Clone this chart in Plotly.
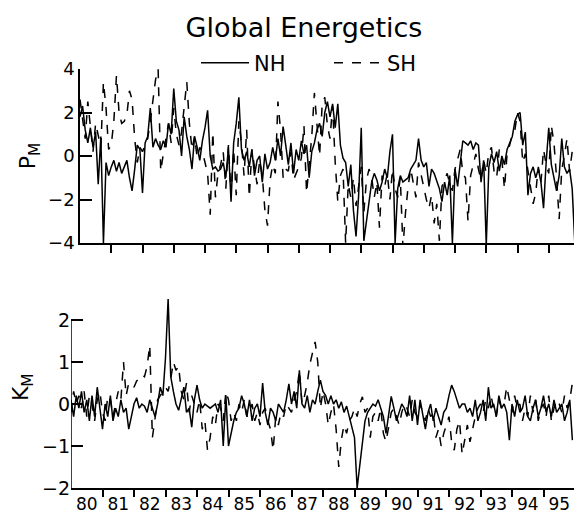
import plotly.graph_objects as go

# monthly values Jan 1980 - Dec 1995
pm_nh = [
    1.8, 2.3, 1.2, 0.6, 1.3, 0.4, 1.1, -1.3, 0.9, -4.0, -0.3, -0.9,
    -0.5, -0.2, -0.7, -0.3, -0.8, -0.5, -0.2, -1.0, -1.6, -0.6, 0.5, 0.3,
    -1.7, 0.6, 0.9, 2.2, 0.4, 0.8, 0.5, 0.3, 0.7, 0.4, 1.5, 1.0,
    3.1, 1.6, 1.2, 0.0, 1.8, 0.9, 0.3, -0.6, 0.9, 0.4, -0.2, 0.7,
    1.3, 2.1, 0.0, -0.6, -0.5, -0.7, -0.6, -0.3, -1.0, 0.4, -2.1, 0.6,
    1.5, 2.7, 0.3, -0.2, 0.2, -0.5, 0.3, -0.9, -0.2, 0.0, -1.2, 0.1,
    -0.6, -0.3, 0.4, -0.2, 0.8, 0.0, 1.35, 0.5, -0.4, 0.6, -0.8, 0.3,
    -0.2, 0.7, 0.1, 0.5, -1.0, 0.2, 0.6, 1.2, 1.5, 0.9, 2.0, 2.5,
    1.8, 2.4, 1.3, 2.4, 0.5, -0.1, -0.3, -1.4, -0.4, -2.5, -3.7, -1.8,
    1.3, -3.9, -3.0, -2.2, -1.2, -0.8, -1.1, -1.6, -1.2, -0.6, -1.0, 0.2,
    1.0, -4.0, -1.5, -0.9, -1.2, -1.1, -1.0, -0.6, -0.4, -0.2, 0.8, -0.2,
    -0.5, -0.3, -1.4, -0.6, -0.8, -1.2, -1.5, -2.1, -1.2, -1.8, -0.9, -4.0,
    -0.6, -1.4, -0.2, 0.7, 0.6, 0.5, 0.7, 0.3, 0.6, 0.5, -1.2, -0.2,
    -4.1, -0.5, 0.1, -0.3, 0.2, -0.7, 0.0, -0.4, 0.3, 0.6, 0.9, 1.6,
    1.9, 2.0, 0.5, 1.1, -1.8, -0.8, -0.5, -1.0, -0.6, -1.2, -2.4, -0.3,
    1.3, -0.4, -1.0, -1.6, -0.9, 0.8, -0.5, -0.8, -0.6, -1.5, -4.0, 1.1,
]
pm_sh = [
    2.6, 1.8, 0.8, 2.5, 1.2, 0.2, 1.5, 0.9, 0.4, 3.4, 2.2, 0.3,
    0.5, 1.6, 3.7, 2.0, 1.5, 1.6, 1.9, 3.0, 2.6, 0.8, -0.3, 0.4,
    0.2, 0.5, 0.8, 1.6, 2.5, 3.5, 4.0, -0.7, 0.1, 0.9, 1.5, 0.6,
    2.2, 1.0, 0.5, 1.1, 2.4, 3.4, 1.5, 0.3, 0.9, -0.1, 0.4, 0.2,
    -0.3, -0.8, -2.7, 1.1, -1.9, -0.8, -0.4, 0.2, -1.5, 0.5, -1.8, 0.3,
    -1.8, 1.6, 0.6, -0.9, 1.2, -1.9, 0.3, -0.5, -1.3, -0.2, -0.9, -2.5,
    -3.2, -1.1, -0.4, -0.8, 2.5, 1.2, -1.0, -0.6, -0.7, 0.2, -1.1, -0.8,
    -0.5, -0.1, 1.4, -1.7, -0.2, 0.9, 2.9, 1.6, 0.0, 2.4, 2.7, 1.4,
    0.8, 2.3, -0.3, -2.1, -0.9, -0.6, -4.0, -1.3, -1.9, -1.0, -2.3, -1.4,
    -0.5, -2.6, -1.1, -0.6, -1.0, -1.9, -1.2, -3.3, -0.9, -1.4, -0.8, -2.0,
    -0.6, -1.5, -1.9, -1.0, -4.2, -2.6, -1.4, -0.6, -1.3, -1.9, -0.3, -0.9,
    -1.5, -2.0, -2.4, -1.8, -3.1, -2.2, -3.9, -1.4, -1.1, -0.8, -1.3, -1.6,
    -0.6, -0.2, 0.3, -0.8, -1.0, -3.0, -0.9, -0.4, 0.1, -0.6, -1.1, -0.2,
    -0.8, 0.2, 0.4, -0.7, -1.0, 0.3, -0.2, -1.5, 0.1, 0.5, 1.0, 1.2,
    2.0, 1.6, -0.3, 0.1, -0.6, -1.5, -2.2, -1.7, -0.5, -1.2, 0.3, -0.4,
    -0.8, 1.4, 0.6, -1.0, -2.9, -0.6, 0.0, 0.8, -0.7, 0.2, 0.7, 1.1,
]
km_nh = [
    0.1, -0.3, 0.2, -0.1, 0.3, -0.2, 0.1, -0.4, 0.2, -0.3, 0.4, -0.1,
    -0.6, 0.0, -0.3, 0.2, -0.4, -0.1, -0.3, 0.1, -0.2, -0.1, -0.6, -0.3,
    0.0, 0.15, -0.1, 0.0, -0.05, -0.2, 0.1, -0.1, -0.3, 0.0, 0.4, 0.2,
    1.1, 2.5, 0.65, 0.3, 0.0, -0.15, 0.1, 0.4, -0.2, -0.1, -0.55, 0.1,
    0.45, 0.1, -0.1, 0.0, -0.05, -0.1, -0.05, 0.0, -0.2, 0.1, -1.0, 0.2,
    -1.0, -0.7, -0.4, -0.2, -0.1, 0.2, 0.0, -0.3, 0.1, -0.4, -0.1, 0.0,
    -0.3, 0.5, -0.2, -0.5, -0.1, -0.2, -0.4, 0.0, -0.1, -0.2, 0.1, 0.48,
    0.0, 0.3, -0.1, 0.8, 0.0, -0.1, 0.2, -0.2, 0.1, 0.0, 0.3, 0.57,
    0.3, 0.2, 0.0, 0.2, 0.0, 0.1, -0.1, 0.05, -0.2, -0.05, -0.3, -0.54,
    -0.8, -2.0, -1.5, -0.9, -0.4, -0.2, -0.1, 0.0, -0.05, 0.1, -0.1, -0.3,
    -0.7, -0.3, 0.18, -0.1, -0.4, -0.2, 0.0, -0.1, -0.3, 0.2, -0.4, 0.1,
    -0.5, 0.1, -0.3, -0.6, -0.2, 0.0, -0.4, -0.1, -0.3, -0.5, -0.2, -0.1,
    0.2, 0.45, 0.3, 0.1, -0.1, 0.0, 0.0, -0.2, -0.1, -0.3, 0.1, -0.4,
    -0.2, 0.1, -0.4, 0.4, -0.1, 0.0, -0.3, 0.2, -0.1, 0.0, -0.2, -0.86,
    0.0, -0.3, 0.1, -0.2, -0.1, 0.2, -0.3, -0.4, -0.1, 0.1, -0.3, -0.1,
    0.2, -0.2, 0.0, -0.3, 0.1, -0.2, -0.1, 0.0, -0.4, -0.2, 0.1, -0.86,
]
km_sh = [
    -0.2, 0.3, 0.0, 0.2, -0.1, 0.3, -0.3, 0.2, 0.0, -0.4, 0.1, 0.3,
    -0.2, -0.4, 0.2, 0.1, -0.3, 0.0, 0.3, 0.1, 1.0, 0.2, 0.5, 0.5,
    0.4, 0.55, 0.6, 0.7, 0.65, 0.9, 1.4, -0.8, -0.3, 0.1, 0.2, 0.3,
    0.4, 0.3, 0.6, 1.0, 0.8, 0.9, 0.3, 0.1, 0.5, -0.2, 0.2, 0.0,
    -0.2, 0.1, -0.6, -0.4, -1.1, -0.8, -0.3, -0.5, 0.0, -0.1, -0.4, 0.3,
    0.1, -0.4, -0.2, -0.4, 0.0, -0.2, 0.1, -0.3, -0.2, 0.0, -0.4, -0.2,
    -0.5, -0.2, -0.1, -0.4, -0.6, -1.1, -0.3, -0.5, -0.2, -0.3, 0.0, -0.1,
    -0.2, 0.1, 0.3, 0.8, 0.0, 0.2, 0.5, 0.95, 1.2, 1.48, 1.0, -0.1,
    0.3, 0.0, -0.5, -0.2, 0.0, -0.6, -1.5, -0.85, -0.5, -0.7, -0.4, -0.3,
    -0.1, -0.3, 0.0, 0.17, -0.2, -0.1, -0.8, -0.3, -0.2, -0.4, -0.1, -0.7,
    -0.9, -0.5, -0.2, -0.1, -0.3, -0.5, -0.2, 0.0, -0.1, -0.3, 0.1, -0.2,
    -0.3, 0.0, -0.2, -0.4, -0.1, -0.3, -0.2, -0.8, -0.6, -1.0, -0.7, -0.5,
    -0.3, -0.9, -1.1, -0.6, -0.4, -1.2, -0.8, -0.5, -0.9, -0.6, -0.3, -0.1,
    0.0, -0.2, 0.1, -0.1, 0.2, -0.1, -0.3, 0.1, -0.1, 0.0, 0.41, 0.1,
    -0.2, 0.2, -0.1, 0.0, -0.4, -0.1, -0.3, 0.2, -0.2, 0.1, -0.4, -0.1,
    0.0, -0.3, 0.2, -0.4, -0.1, 0.1, 0.0, -0.2, 0.2, -0.1, 0.1, 0.5,
]
year_labels = ["80", "81", "82", "83", "84", "85", "86", "87",
               "88", "89", "90", "91", "92", "93", "94", "95"]
first_year = 1980

t = [first_year + i / 12 for i in range(len(pm_nh))]
year_bounds = [first_year + k for k in range(len(year_labels) + 1)]
year_mids = [first_year + k + 0.5 for k in range(len(year_labels))]

FONT = "DejaVu Sans"
OFF = 8                      # page body margin of the browser
W, H = 582 - OFF, 527 - OFF
line_w = 1.5


def px(x):
    return (x - OFF) / W


def py(y):
    return 1 - (y - OFF) / H


# pixel layout (window coordinates)
top_y4, top_ym4 = 69, 243      # P_M: y=4, y=-4
bot_y2, bot_ym2 = 320, 488     # K_M: y=2, y=-2
km_top = 2.8                   # extra room so the 1983 spike is not clipped
bot_top_px = bot_ym2 - (km_top + 2) / 4 * (bot_ym2 - bot_y2)

fig = go.Figure()
fig.add_trace(go.Scatter(x=t, y=pm_nh, mode="lines", name="NH",
                         line=dict(color="black", width=line_w),
                         xaxis="x", yaxis="y"))
fig.add_trace(go.Scatter(x=t, y=pm_sh, mode="lines", name="SH",
                         line=dict(color="black", width=line_w, dash="dash"),
                         xaxis="x", yaxis="y"))
fig.add_trace(go.Scatter(x=t, y=km_nh, mode="lines", showlegend=False,
                         line=dict(color="black", width=line_w),
                         xaxis="x2", yaxis="y2"))
fig.add_trace(go.Scatter(x=t, y=km_sh, mode="lines", showlegend=False,
                         line=dict(color="black", width=line_w, dash="dash"),
                         xaxis="x2", yaxis="y2"))

# K_M left axis line only from -2 to 2
fig.add_shape(type="line", xref="x2", yref="y2", x0=first_year, x1=first_year,
              y0=-2, y1=2, line=dict(color="black", width=1.5))

fig.update_layout(
    width=W, height=H,
    margin=dict(l=0, r=0, t=0, b=0, autoexpand=False),
    paper_bgcolor="white", plot_bgcolor="white",
    font=dict(family=FONT, color="black", size=16),
    title=dict(text="Global Energetics", x=px(304), xanchor="center",
               y=py(28), yanchor="middle",
               font=dict(size=27, family=FONT)),
    legend=dict(orientation="h", x=px(196), y=py(63), xanchor="left",
                yanchor="middle", font=dict(size=21), itemwidth=48,
                bgcolor="rgba(0,0,0,0)", entrywidth=70),
    xaxis=dict(domain=[px(80), px(580)], range=[1980, 1996], automargin=False,
               anchor="y", showline=True, linecolor="black", linewidth=1.5,
               showgrid=False, zeroline=False, showticklabels=False,
               tickmode="array", tickvals=year_bounds[1:-1], ticks="outside",
               ticklen=8, tickwidth=1.5, tickcolor="black"),
    yaxis=dict(domain=[py(top_ym4), py(top_y4)], range=[-4, 4],
               anchor="x", automargin=False, showline=True, linecolor="black",
               linewidth=1.5, showgrid=False, zeroline=False,
               tickvals=[-4, -2, 0, 2, 4], ticktext=["\u22124", "\u22122", "0", "2", "4"],
               ticks="inside", ticklen=12, tickwidth=1.5, tickcolor="black",
               tickfont=dict(size=18),
               title=dict(text="P<sub>M</sub>", font=dict(size=22), standoff=6)),
    xaxis2=dict(domain=[px(71), px(575)], range=[1980, 1996], automargin=False,
                anchor="y2", showline=True, linecolor="black", linewidth=1.5,
                showgrid=False, zeroline=False,
                tickmode="array", tickvals=year_mids, ticktext=year_labels,
                ticks="", tickfont=dict(size=17),
                minor=dict(tickmode="array", tickvals=year_bounds[1:], ticks="outside",
                           ticklen=7, tickwidth=1.5, tickcolor="black")),
    yaxis2=dict(domain=[py(bot_ym2), py(bot_top_px)], range=[-2, km_top],
                anchor="x2", automargin=False, showline=False,
                showgrid=False, zeroline=False,
                tickvals=[-2, -1, 0, 1, 2], ticktext=["\u22122", "\u22121", "0", "1", "2"],
                ticks="inside", ticklen=12, tickwidth=1.5, tickcolor="black",
                tickfont=dict(size=19),
                title=dict(text="K<sub>M</sub>", font=dict(size=22), standoff=8)),
)

fig.write_html("out.html")
